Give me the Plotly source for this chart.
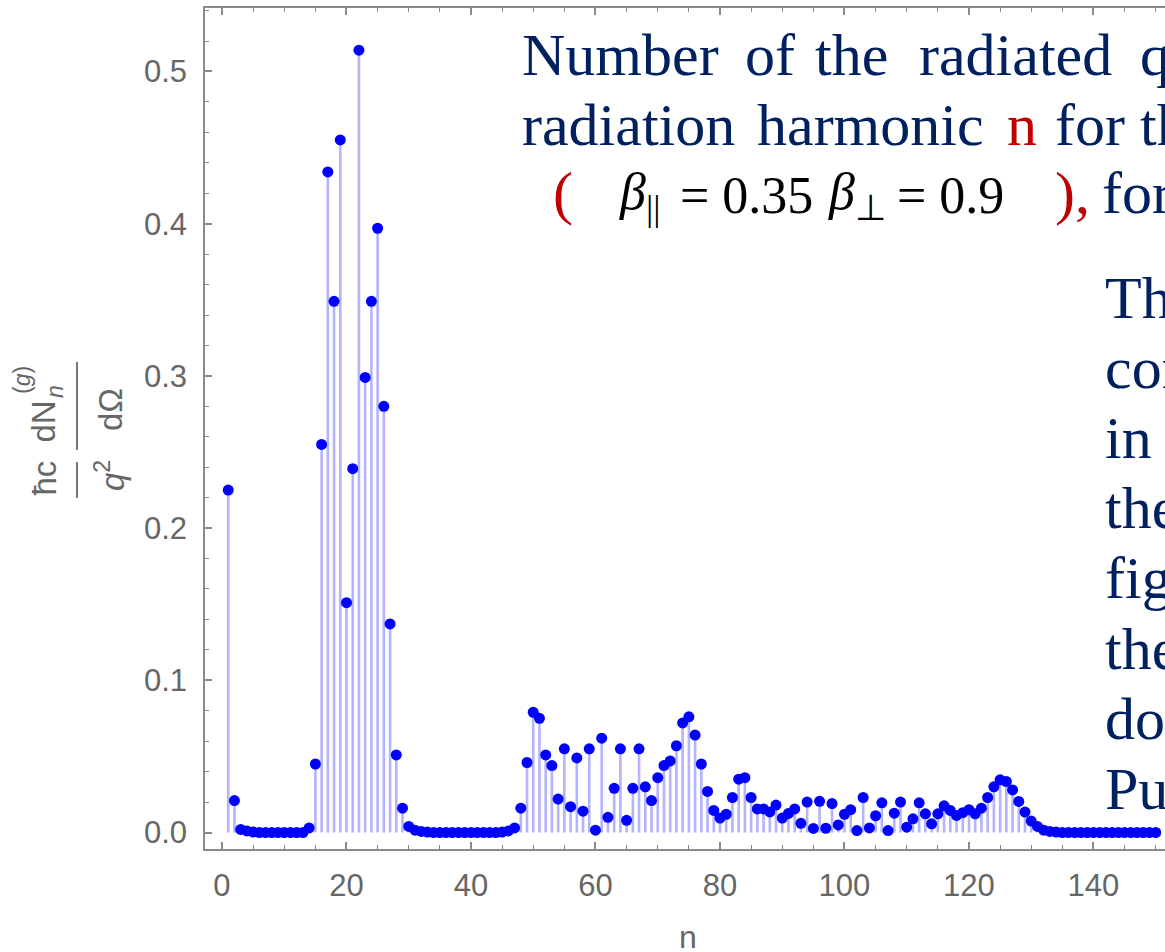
import plotly.graph_objects as go

# ---------------- data ----------------
harmonic_n = list(range(1, 151))
dN_values = [
    0.225, 0.021, 0.002, 0.001, 0.0003, 0.0, 0.0, 0.0, 0.0, 0.0,          # 1-10
    0.0, 0.0, 0.0, 0.003, 0.045, 0.255, 0.434, 0.349, 0.455, 0.151,       # 11-20
    0.239, 0.514, 0.299, 0.349, 0.397, 0.280, 0.137, 0.051, 0.016, 0.004, # 21-30
    0.0015, 0.0007, 0.0003, 0.0, 0.0, 0.0, 0.0, 0.0, 0.0, 0.0,            # 31-40
    0.0, 0.0, 0.0, 0.0, 0.0003, 0.001, 0.003, 0.016, 0.046, 0.079,        # 41-50
    0.075, 0.051, 0.044, 0.022, 0.055, 0.017, 0.049, 0.014, 0.055, 0.0015,# 51-60
    0.062, 0.010, 0.029, 0.055, 0.008, 0.029, 0.055, 0.030, 0.021, 0.036, # 61-70
    0.044, 0.047, 0.057, 0.072, 0.076, 0.064, 0.045, 0.027, 0.0145, 0.0095,# 71-80
    0.012, 0.023, 0.035, 0.036, 0.023, 0.0155, 0.0155, 0.0135, 0.018, 0.0095,# 81-90
    0.0125, 0.0155, 0.006, 0.020, 0.0027, 0.0205, 0.0028, 0.019, 0.005, 0.012,# 91-100
    0.015, 0.0013, 0.023, 0.003, 0.011, 0.0195, 0.0013, 0.0127, 0.020, 0.0035,# 101-110
    0.009, 0.0195, 0.0123, 0.0057, 0.0123, 0.0175, 0.0145, 0.0112, 0.013, 0.015,# 111-120
    0.0123, 0.016, 0.023, 0.030, 0.0346, 0.0335, 0.028, 0.0204, 0.0134, 0.0075,# 121-130
    0.004, 0.0015, 0.0007, 0.0003, 0.0, 0.0, 0.0, 0.0, 0.0, 0.0,          # 131-140
    0.0, 0.0, 0.0, 0.0, 0.0, 0.0, 0.0, 0.0, 0.0, 0.0,                     # 141-150
]
x_tick_values = [0, 20, 40, 60, 80, 100, 120, 140]
y_tick_values = [0.0, 0.1, 0.2, 0.3, 0.4, 0.5]
y_tick_labels = ["0.0", "0.1", "0.2", "0.3", "0.4", "0.5"]

# ---------------- figure geometry ----------------
W, H = 1165, 952
L, R, T, B = 205, 1165, 8, 849   # plot area in pixels


def px(x):
    return (x - L) / (R - L)


def py(y):
    return (B - y) / (B - T)


NAVY = "#002060"
RED = "#C00000"
GREY = "#666666"
AXIS = "#8a8a8a"

# stems built from the data
stem_x, stem_y = [], []
for n, v in zip(harmonic_n, dN_values):
    stem_x += [n, n, None]
    stem_y += [0, v, None]

fig = go.Figure()
fig.add_trace(go.Scatter(x=stem_x, y=stem_y, mode="lines",
                         line=dict(color="rgb(179,179,255)", width=2.6),
                         hoverinfo="skip", showlegend=False))
fig.add_trace(go.Scatter(x=harmonic_n, y=dN_values, mode="markers",
                         marker=dict(color="#0000FF", size=11, line=dict(width=0)),
                         showlegend=False))

tickfont = dict(family="Liberation Sans, Arial, sans-serif", size=31, color=GREY)
fig.update_xaxes(range=[-2.73, 151.49], tickvals=x_tick_values,
                 ticks="inside", ticklen=7, tickwidth=1.5, tickcolor=AXIS,
                 showline=True, linecolor=AXIS, linewidth=1.5, mirror="allticks",
                 showgrid=False, zeroline=False, tickfont=tickfont,
                 ticklabelstandoff=8,
                 minor=dict(dtick=5, tick0=0, ticks="inside", ticklen=4,
                            tickwidth=1.2, tickcolor=AXIS, showgrid=False))
fig.update_yaxes(range=[-0.01084, 0.5417], tickvals=y_tick_values, ticktext=y_tick_labels,
                 ticks="inside", ticklen=7, tickwidth=1.5, tickcolor=AXIS,
                 showline=True, linecolor=AXIS, linewidth=1.5, mirror=False,
                 showgrid=False, zeroline=False, tickfont=tickfont,
                 ticklabelstandoff=10,
                 minor=dict(dtick=0.02, tick0=0, ticks="inside", ticklen=4,
                            tickwidth=1.2, tickcolor=AXIS, showgrid=False))

ann = []
SERIF = "Liberation Serif, Times New Roman, serif"


def text(t, x, y, size=60, color=NAVY, fam=SERIF, xanchor="left", angle=0):
    ann.append(dict(text=t, x=px(x), y=py(y), xref="paper", yref="paper",
                    showarrow=False, xanchor=xanchor, yanchor="middle",
                    textangle=angle, font=dict(family=fam, size=size, color=color)))


# title lines (baselines ~75, 145, 213)
for word, x0 in [("Number", 520), ("of", 743), ("the", 813), ("radiated", 917), ("q", 1138)]:
    text(word, x0, 55)
for word, x0, col in [("radiation", 520, NAVY), ("harmonic", 755, NAVY),
                      ("n", 1005, RED), ("for th", 1053, NAVY)]:
    text(word, x0, 125, color=col)
text("(", 551, 193, color=RED)
text("<i>β</i><sub>||</sub>", 617, 195, size=52, color="black")
text("= 0.35", 678, 195, size=52, color="black")
text("<i>β</i><sub>⊥</sub>", 826, 195, size=52, color="black")
text("= 0.9", 895, 195, size=52, color="black")
text("),", 1053, 193, color=RED)
text("for", 1100, 193)

# right column text fragments (baselines ~318 ... 809)
for i, frag in enumerate(["Th", "con", "in", "the", "fig", "the", "dor", "Pu"]):
    text(frag, 1103, 298 + i * 70.1)

# x-axis title
text("n", 688, 937, size=32, color=GREY, fam="Liberation Sans, Arial, sans-serif",
     xanchor="center")

# y-axis title (rotated fraction)
SANS = "Liberation Sans, Arial, sans-serif"
ann.append(dict(text="ħc", x=px(43.5), y=py(478), xref="paper", yref="paper", showarrow=False,
                xanchor="center", yanchor="middle", textangle=-90,
                font=dict(family=SANS, size=33, color=GREY)))
ann.append(dict(text="dN", x=px(43.5), y=py(422), xref="paper", yref="paper", showarrow=False,
                xanchor="center", yanchor="middle", textangle=-90,
                font=dict(family=SANS, size=33, color=GREY)))
ann.append(dict(text="<i>n</i>", x=px(55), y=py(392), xref="paper", yref="paper", showarrow=False,
                xanchor="center", yanchor="middle", textangle=-90,
                font=dict(family=SANS, size=23, color=GREY)))
ann.append(dict(text="(<i>g</i>)", x=px(22), y=py(380), xref="paper", yref="paper", showarrow=False,
                xanchor="center", yanchor="middle", textangle=-90,
                font=dict(family=SANS, size=23, color=GREY)))
ann.append(dict(text="<i>q</i><sup>2</sup>", x=px(110), y=py(476), xref="paper", yref="paper",
                showarrow=False, xanchor="center", yanchor="middle", textangle=-90,
                font=dict(family=SANS, size=33, color=GREY)))
ann.append(dict(text="dΩ", x=px(110), y=py(410), xref="paper", yref="paper", showarrow=False,
                xanchor="center", yanchor="middle", textangle=-90,
                font=dict(family=SANS, size=33, color=GREY)))

shapes = [
    dict(type="line", xref="paper", yref="paper", x0=px(77), x1=px(77), y0=py(462), y1=py(498),
         line=dict(color=GREY, width=1.8)),
    dict(type="line", xref="paper", yref="paper", x0=px(77), x1=px(77), y0=py(362), y1=py(450),
         line=dict(color=GREY, width=1.8)),
]

fig.update_layout(width=W, height=H,
                  margin=dict(l=L, r=W - R, t=T, b=H - B, pad=0),
                  paper_bgcolor="white", plot_bgcolor="white",
                  annotations=ann, shapes=shapes, showlegend=False)

fig.write_html("out.html")
